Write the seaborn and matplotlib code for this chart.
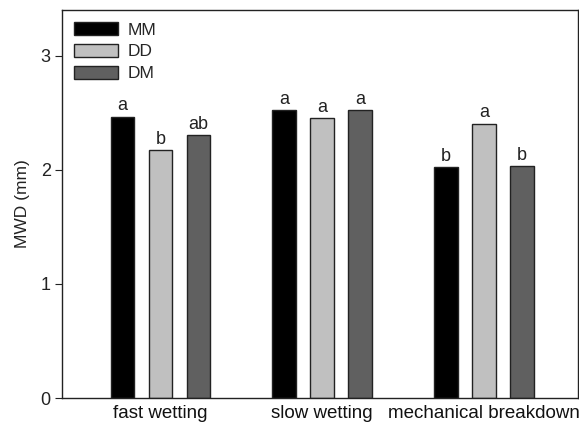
import numpy as np
import pandas as pd
import matplotlib
matplotlib.use("Agg")
import matplotlib.pyplot as plt
import seaborn as sns

# values
tests = ['fast wetting', 'slow wetting', 'mechanical breakdown']
treatments = ['MM', 'DD', 'DM']
mm_vals = [2.46, 2.52, 2.02]
dd_vals = [2.17, 2.45, 2.40]
dm_vals = [2.30, 2.52, 2.03]
mm_letters = ['a', 'a', 'b']
dd_letters = ['b', 'a', 'a']
dm_letters = ['ab', 'a', 'b']
bar_colors = ['#000000', '#c0c0c0', '#606060']

df = pd.DataFrame({
    'test': tests * 3,
    'treatment': np.repeat(treatments, 3),
    'MWD': mm_vals + dd_vals + dm_vals,
})

sns.set_style('ticks')
plt.rcParams['font.family'] = ['Liberation Sans', 'DejaVu Sans']

fig = plt.figure(figsize=(5.79, 4.29), dpi=100)
ax = fig.add_axes([0.107, 0.072, 0.891, 0.905])

sns.barplot(data=df, x='test', y='MWD', hue='treatment', order=tests,
            hue_order=treatments, palette=bar_colors, width=0.705, gap=0.38,
            edgecolor='#222222', linewidth=1.0, errorbar=None, ax=ax)

# significance letters above each bar
for cont, letters in zip(ax.containers, [mm_letters, dd_letters, dm_letters]):
    ax.bar_label(cont, labels=letters, padding=2, fontsize=13, color='#222222')

ax.set_ylim(0, 3.4)
ax.set_xlim(-0.609, 2.582)
ax.set_yticks([0, 1, 2, 3])
ax.set_xlabel('')
ax.set_ylabel('MWD (mm)', fontsize=12.5, color='#222222', labelpad=8)
ax.tick_params(axis='y', direction='out', length=5, labelsize=13, colors='#222222', pad=3)
ax.tick_params(axis='x', length=0, labelsize=13.5, colors='#111111', pad=5)
for s in ax.spines.values():
    s.set_color('#222222')
    s.set_linewidth(1.0)

leg = ax.legend(loc='upper left', frameon=False, fontsize=12.5, handlelength=2.5,
                handleheight=0.8, labelspacing=0.35, borderaxespad=0.3,
                borderpad=0.4, handletextpad=0.6)

fig.savefig('out.png', dpi=100)
